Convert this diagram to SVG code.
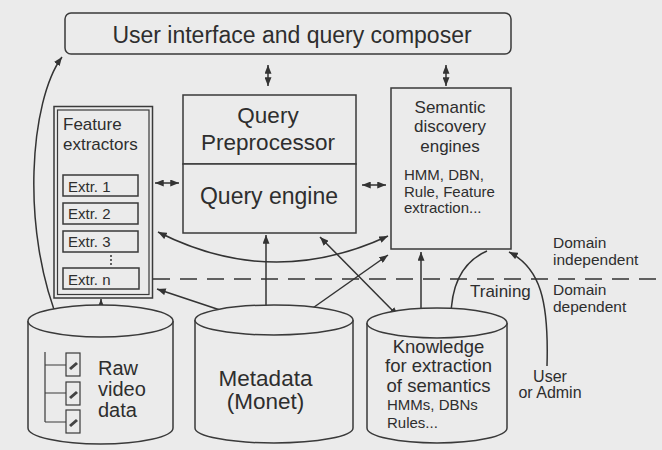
<svg xmlns="http://www.w3.org/2000/svg" width="662" height="450" viewBox="0 0 662 450">
<defs>
<style>
.bg{fill:#ebebeb}
.box{fill:#ebebeb;stroke:#3a3a3a;stroke-width:1.5}
.thin{fill:none;stroke:#3a3a3a;stroke-width:1.2}
.c{fill:none;stroke:#333;stroke-width:1.5}
.t{font-family:"Liberation Sans",Arial,sans-serif;fill:#2e2e2e}
.m{text-anchor:middle}
</style>
<marker id="ah" viewBox="0 0 10 8" refX="10" refY="4" markerWidth="9" markerHeight="7" markerUnits="userSpaceOnUse" orient="auto-start-reverse">
<path d="M0,0 L10,4 L0,8 z" fill="#333"/>
</marker>
</defs>
<rect class="bg" x="0" y="0" width="662" height="450"/>

<g id="connectors">
<line class="c" x1="153" y1="279" x2="662" y2="279" stroke-dasharray="17 10"/>
<path class="c" d="M62,57 C30,100 20,230 60,325" marker-start="url(#ah)" marker-end="url(#ah)"/>
<line class="c" x1="268" y1="65" x2="268" y2="86" marker-start="url(#ah)" marker-end="url(#ah)"/>
<line class="c" x1="446" y1="65" x2="446" y2="86" marker-start="url(#ah)" marker-end="url(#ah)"/>
<line class="c" x1="155" y1="183" x2="179" y2="183" marker-start="url(#ah)" marker-end="url(#ah)"/>
<line class="c" x1="362" y1="185" x2="386" y2="185" marker-start="url(#ah)" marker-end="url(#ah)"/>
<line class="c" x1="101" y1="299" x2="101" y2="318" marker-start="url(#ah)" marker-end="url(#ah)"/>
<path class="c" d="M158,232 Q272,290 388,236" marker-start="url(#ah)" marker-end="url(#ah)"/>
<line class="c" x1="157" y1="289" x2="232" y2="314" marker-start="url(#ah)" marker-end="url(#ah)"/>
<line class="c" x1="266" y1="235" x2="266" y2="317" marker-start="url(#ah)" marker-end="url(#ah)"/>
<line class="c" x1="320" y1="237" x2="398" y2="316" marker-start="url(#ah)" marker-end="url(#ah)"/>
<line class="c" x1="300" y1="317" x2="388" y2="255" marker-start="url(#ah)" marker-end="url(#ah)"/>
<line class="c" x1="421" y1="252" x2="421" y2="318" marker-start="url(#ah)" marker-end="url(#ah)"/>
<path class="c" d="M487,251 C462,262 451,285 451,318" marker-end="url(#ah)"/>
<path class="c" d="M547,366 C549,300 540,268 509,252" marker-end="url(#ah)"/>
</g>

<g id="ui">
<rect class="box" x="65" y="13" width="446" height="41" rx="6"/>
<text class="t m" x="292" y="43" font-size="23">User interface and query composer</text>
</g>

<g id="feature-extractors">
<rect class="box" x="54" y="106.5" width="98.5" height="191.5"/>
<rect class="thin" x="57.5" y="110" width="91.5" height="184.5"/>
<text class="t" x="63" y="130" font-size="17">Feature</text>
<text class="t" x="63" y="150" font-size="17">extractors</text>
</g>
<g id="extr1"><rect class="box" x="63" y="175" width="75" height="21"/><text class="t" x="68" y="192" font-size="15">Extr. 1</text></g>
<g id="extr2"><rect class="box" x="63" y="203" width="75" height="21"/><text class="t" x="68" y="219" font-size="15">Extr. 2</text></g>
<g id="extr3"><rect class="box" x="63" y="231" width="75" height="21"/><text class="t" x="68" y="247" font-size="15">Extr. 3</text></g>
<line x1="111" y1="255" x2="111" y2="267" stroke="#333" stroke-width="1.5" stroke-dasharray="2 2"/>
<g id="extrn"><rect class="box" x="63" y="268" width="76" height="21"/><text class="t" x="68" y="285" font-size="15">Extr. n</text></g>

<g id="query-preprocessor">
<rect class="box" x="183" y="95" width="173" height="69"/>
<text class="t m" x="268" y="123" font-size="22.5">Query</text>
<text class="t m" x="268" y="150" font-size="22.5">Preprocessor</text>
</g>
<g id="query-engine">
<rect class="box" x="183" y="164" width="173" height="69"/>
<text class="t m" x="269" y="204" font-size="23">Query engine</text>
</g>

<g id="semantic">
<rect class="box" x="391" y="88" width="120" height="161"/>
<text class="t m" x="450" y="113" font-size="17">Semantic</text>
<text class="t m" x="450" y="132" font-size="17">discovery</text>
<text class="t m" x="450" y="152" font-size="17">engines</text>
<text class="t" x="404" y="180" font-size="15">HMM, DBN,</text>
<text class="t" x="404" y="197" font-size="15">Rule, Feature</text>
<text class="t" x="404" y="213" font-size="15">extraction...</text>
</g>

<g id="raw-video">
<path class="box" d="M28,321 L28,428 A72.5,16 0 0 0 173,428 L173,321"/>
<ellipse class="box" cx="100.5" cy="321" rx="72.5" ry="16"/>
<path class="thin" d="M45,352 L45,422 M45,365 L66,365 M45,393 L66,393 M45,422 L66,422"/>
<rect class="thin" x="66" y="353" width="14" height="23"/>
<rect class="thin" x="66" y="382" width="14" height="23"/>
<rect class="thin" x="66" y="410" width="14" height="23"/>
<path d="M69,368 L76,362 L78,364 L71,370 z M69,397 L76,391 L78,393 L71,399 z M69,425 L76,419 L78,421 L71,427 z" fill="#444"/>
<text class="t" x="98" y="375" font-size="20">Raw</text>
<text class="t" x="98" y="396" font-size="20">video</text>
<text class="t" x="98" y="417" font-size="20">data</text>
</g>

<g id="metadata">
<path class="box" d="M195,320 L195,428 A79,15 0 0 0 353,428 L353,320"/>
<ellipse class="box" cx="274" cy="320" rx="79" ry="15"/>
<text class="t m" x="265.5" y="386" font-size="22.5">Metadata</text>
<text class="t m" x="265.5" y="409" font-size="22.5">(Monet)</text>
</g>

<g id="knowledge">
<path class="box" d="M367,323 L367,428 A70,15 0 0 0 507,428 L507,323"/>
<ellipse class="box" cx="437" cy="323" rx="70" ry="15"/>
<text class="t m" x="438.5" y="353" font-size="18.5">Knowledge</text>
<text class="t m" x="438.5" y="372" font-size="18.5">for extraction</text>
<text class="t m" x="438.5" y="392" font-size="18.5">of semantics</text>
<text class="t" x="387" y="410" font-size="15">HMMs, DBNs</text>
<text class="t" x="387" y="428" font-size="15">Rules...</text>
</g>

<g id="labels">
<text class="t" x="470" y="297" font-size="17">Training</text>
<text class="t" x="553" y="248" font-size="15.5">Domain</text>
<text class="t" x="553" y="265" font-size="15.5">independent</text>
<text class="t" x="553" y="295" font-size="15.5">Domain</text>
<text class="t" x="553" y="312" font-size="15.5">dependent</text>
<text class="t m" x="550" y="382" font-size="16">User</text>
<text class="t m" x="550" y="398" font-size="16">or Admin</text>
</g>
</svg>
